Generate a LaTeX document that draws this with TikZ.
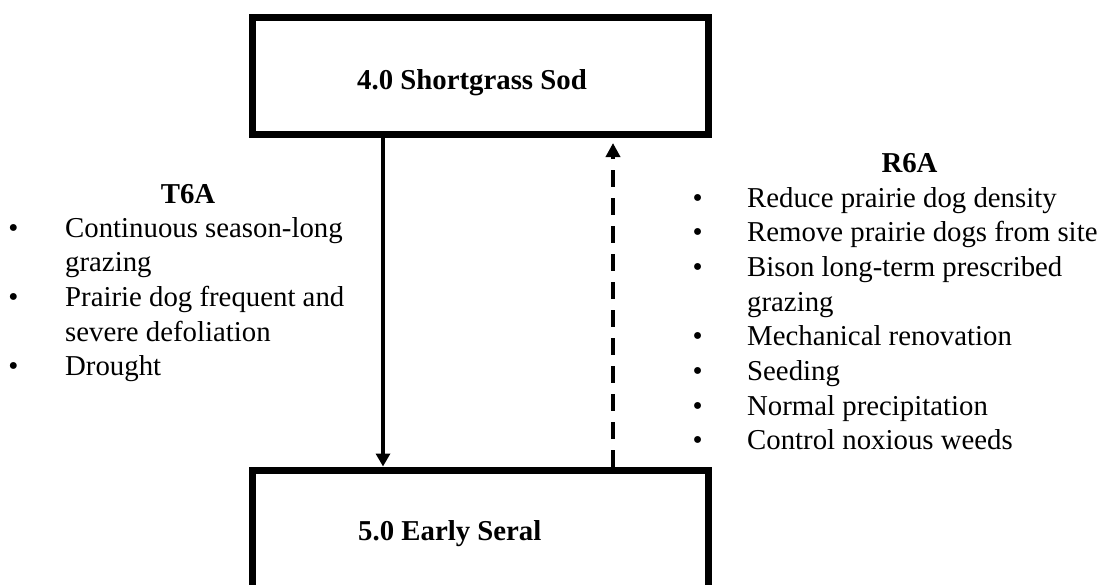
\documentclass[tikz,border=0pt]{standalone}
\usepackage{fontspec}
\setmainfont{Liberation Serif}
\usetikzlibrary{arrows.meta}

\begin{document}
\begin{tikzpicture}[x=1pt,y=-1pt,
  statebox/.style={draw,line width=7pt,minimum width=456pt,inner sep=0pt},
  boxtext/.style={font=\bfseries\fontsize{28.8}{34.7}\selectfont,inner sep=0pt,anchor=base west},
  heading/.style={font=\bfseries\fontsize{28.8}{34.7}\selectfont,inner sep=0pt,anchor=base},
  bulletlist/.style={font=\fontsize{28.8}{34.7}\selectfont,inner sep=0pt,anchor=base west},
  transition/.style={line width=4pt,-{Triangle[width=14pt,length=13pt]}},
  restoration/.style={line width=4.5pt,dash pattern=on 17pt off 11pt,-{Triangle[width=14pt,length=14pt]}}
]
\useasboundingbox (0,0) rectangle (1106,584);
\clip (0,0) rectangle (1106,584);

% state boxes (the lower one runs off the page)
\node[statebox,minimum height=117pt] (sod) at (480.5,76) {};
\node[statebox,minimum height=200pt] (seral) at (480.5,570) {};
\node[boxtext] (sodtext) at (357,89) {4.0 Shortgrass Sod};
\node[boxtext] (seraltext) at (358,540) {5.0 Early Seral};

% transition and restoration pathways
\coordinate (xt) at (383,0);
\coordinate (xr) at (613,0);
\draw[transition] (sod.south -| xt) -- (seral.north -| xt);
\draw[restoration] (seral.north -| xr) -- ([yshift=-5pt]sod.south -| xr);

% pathway notes
\node[heading] (t6a) at (188,203) {T6A};
\node[bulletlist] (t6alist) at (8.3,237) {%
  \begin{tabular}[t]{@{}p{56.7pt}@{}l@{}}
  \textbullet & Continuous season-long\\
   & grazing\\
  \textbullet & Prairie dog frequent and\\
   & severe defoliation\\
  \textbullet & Drought
  \end{tabular}};

\node[heading] (r6a) at (909.5,172) {R6A};
\node[bulletlist] (r6alist) at (692.5,207) {%
  \begin{tabular}[t]{@{}p{54.5pt}@{}l@{}}
  \textbullet & Reduce prairie dog density\\
  \textbullet & Remove prairie dogs from site\\
  \textbullet & Bison long-term prescribed\\
   & grazing\\
  \textbullet & Mechanical renovation\\
  \textbullet & Seeding\\
  \textbullet & Normal precipitation\\
  \textbullet & Control noxious weeds
  \end{tabular}};
\end{tikzpicture}
\end{document}
